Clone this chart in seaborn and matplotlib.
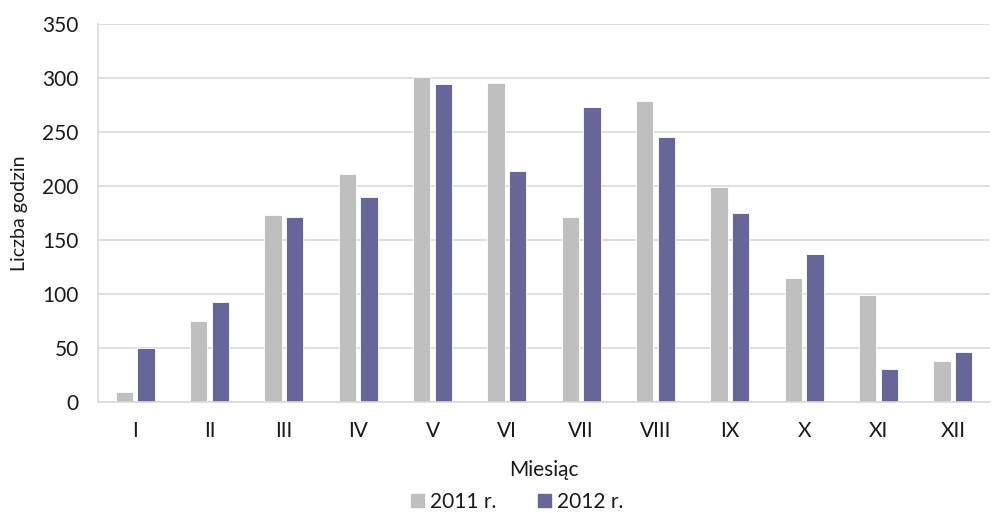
import matplotlib
matplotlib.use("Agg")
import matplotlib.pyplot as plt
from matplotlib.ticker import FixedLocator
import seaborn as sns
import pandas as pd
import numpy as np

# Monthly sunshine hours
months = ["I", "II", "III", "IV", "V", "VI", "VII", "VIII", "IX", "X", "XI", "XII"]
hours_2011 = [9, 75, 173, 211, 301, 295, 171, 279, 199, 115, 99, 38]
hours_2012 = [50, 93, 171, 190, 294, 214, 273, 245, 175, 137, 31, 46]
series = ["2011 r.", "2012 r."]

df = pd.DataFrame({
    "Miesiąc": months * 2,
    "Liczba godzin": hours_2011 + hours_2012,
    "Rok": [series[0]] * len(months) + [series[1]] * len(months),
})

sns.set_theme(style="white")
plt.rcParams["font.family"] = ["Lato", "DejaVu Sans"]

grid_c = "#D9D9D9"
text_c = "#1a1a1a"
colors = ["#BFBFBF", "#666699"]

fig = plt.figure(figsize=(9.95, 5.13), dpi=100)
ax = fig.add_axes([98 / 995, 1 - 402 / 513, (990 - 98) / 995, (402 - 24) / 513])

sns.barplot(
    data=df, x="Miesiąc", y="Liczba godzin", hue="Rok",
    order=months, hue_order=series,
    palette=colors, saturation=1,
    width=0.58, gap=0.2, dodge=True,
    edgecolor="white", linewidth=0.6,
    ax=ax, legend=False,
)

ax.set_xlim(-0.5, len(months) - 0.5)
ax.set_ylim(0, 350)
ax.set_yticks(np.arange(0, 351, 50))
ax.yaxis.grid(True, color=grid_c, linewidth=1.2)
ax.set_axisbelow(True)

for s in ["top", "right"]:
    ax.spines[s].set_visible(False)
for s in ["left", "bottom"]:
    ax.spines[s].set_color(grid_c)
    ax.spines[s].set_linewidth(1.2)

ax.tick_params(axis="y", length=0, pad=14, labelsize=15, labelcolor=text_c)
ax.tick_params(axis="x", which="major", length=0, pad=14, labelsize=15, labelcolor=text_c)
ax.xaxis.set_minor_locator(FixedLocator(np.arange(-0.5, len(months), 1.0)))
ax.tick_params(axis="x", which="minor", length=5, width=1.2, color=grid_c, direction="out")

ax.set_xlabel("Miesiąc", fontsize=15, color=text_c, labelpad=13)
ax.set_ylabel("Liczba godzin", fontsize=14, color=text_c, labelpad=10)

handles = [plt.Rectangle((0, 0), 1, 1, color=c) for c in colors]
fig.legend(handles, series, loc="lower center", bbox_to_anchor=(0.52, -0.034),
           ncol=2, frameon=False, fontsize=15, handlelength=0.62, handleheight=0.62,
           handletextpad=0.3, columnspacing=2.0, labelcolor=text_c)

fig.savefig("out.png", dpi=100)
